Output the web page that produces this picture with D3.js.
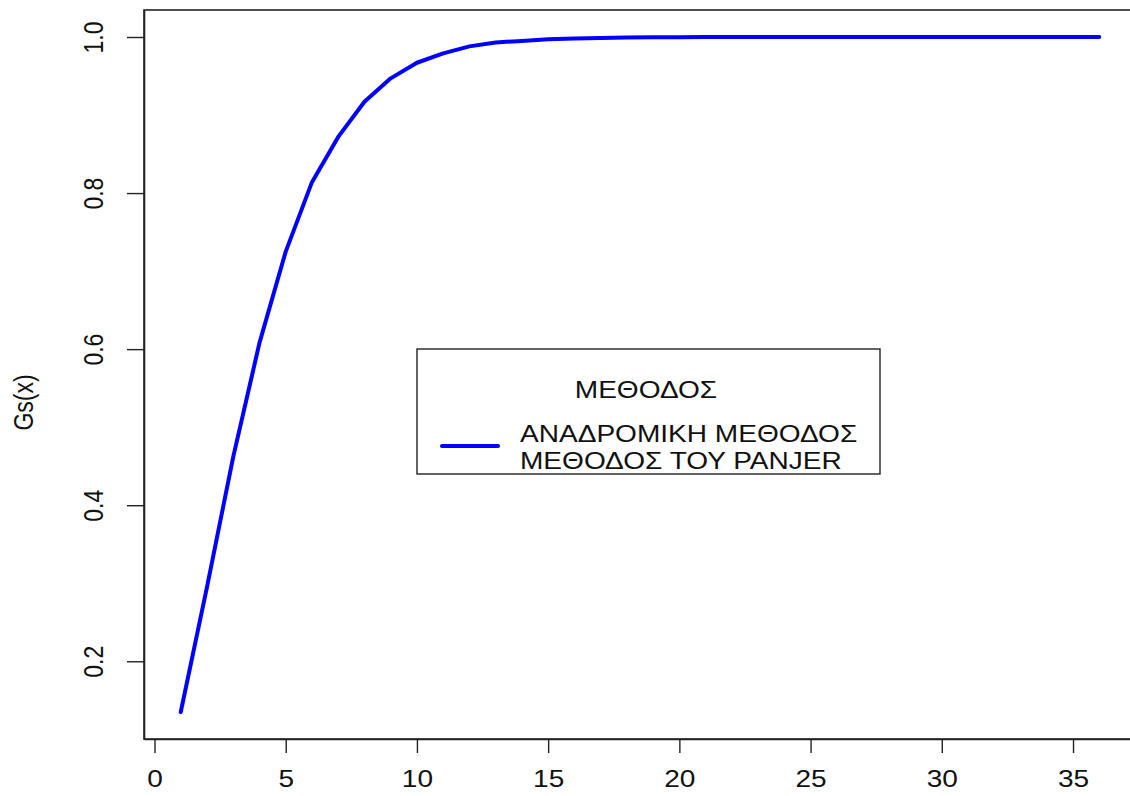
<!DOCTYPE html>
<html>
<head>
<meta charset="utf-8">
<script src="https://cdn.jsdelivr.net/npm/d3@7"></script>
<style>
  html, body { margin: 0; padding: 0; background: #fff; }
  svg { display: block; }
  text { font-family: "Liberation Sans", Arial, sans-serif; fill: #111; }
</style>
</head>
<body>
<svg id="chart" width="1130" height="796"></svg>
<script>
// Cumulative distribution Gs(x) of the aggregate claim amount
const xValues = [1, 2, 3, 4, 5, 6, 7, 8, 9, 10, 11, 12, 13, 14, 15, 16, 17, 18,
                 19, 20, 21, 22, 23, 24, 25, 26, 27, 28, 29, 30, 31, 32, 33, 34, 35, 36];
const gsValues = [0.135, 0.295, 0.462, 0.608, 0.725, 0.814, 0.872, 0.917, 0.947, 0.967,
                  0.979, 0.988, 0.993, 0.995, 0.997, 0.998, 0.9988, 0.9993, 0.9996, 0.9998,
                  0.9999, 0.9999, 1.0, 1.0, 1.0, 1.0, 1.0, 1.0, 1.0, 1.0,
                  1.0, 1.0, 1.0, 1.0, 1.0, 1.0];
const xTicks = [0, 5, 10, 15, 20, 25, 30, 35];
const yTicks = [0.2, 0.4, 0.6, 0.8, 1.0];
const yLabel = "Gs(x)";
const legendTitle = "ΜΕΘΟΔΟΣ";
const legendLines = ["ΑΝΑΔΡΟΜΙΚΗ ΜΕΘΟΔΟΣ", "ΜΕΘΟΔΟΣ ΤΟΥ PANJER"];

const svg = d3.select("#chart");
const plot = { left: 144, right: 1136, top: 10, bottom: 739 };
const sx = 1.22;          // horizontal text stretch
const fontSize = 23;
const ink = "#222";

// Axis ranges padded by 4% on each side
function padded(ext) { const r = ext[1] - ext[0]; return [ext[0] - 0.04 * r, ext[1] + 0.04 * r]; }
const x = d3.scaleLinear().domain(padded(d3.extent(xValues))).range([plot.left, plot.right]);
const y = d3.scaleLinear().domain(padded(d3.extent(gsValues))).range([plot.bottom, plot.top]);

const data = xValues.map((v, i) => ({ x: v, y: gsValues[i] }));

// Curve
svg.append("path")
  .datum(data)
  .attr("fill", "none")
  .attr("stroke", "#0000ff")
  .attr("stroke-width", 4)
  .attr("stroke-linejoin", "round")
  .attr("stroke-linecap", "round")
  .attr("d", d3.line().x(d => x(d.x)).y(d => y(d.y)));

// Frame
svg.append("rect")
  .attr("x", plot.left).attr("y", plot.top)
  .attr("width", plot.right - plot.left).attr("height", plot.bottom - plot.top)
  .attr("fill", "none").attr("stroke", ink).attr("stroke-width", 1.6);

// X axis
const xAxis = svg.append("g").attr("transform", `translate(0,${plot.bottom})`)
  .call(d3.axisBottom(x).tickValues(xTicks).tickSize(14).tickSizeOuter(0).tickFormat(d3.format("d")));
xAxis.select(".domain").attr("stroke", ink).attr("stroke-width", 1.6);
xAxis.selectAll(".tick line").attr("stroke", ink).attr("stroke-width", 1.4);
xAxis.selectAll(".tick text").remove();
xAxis.selectAll(".tick").append("g")
  .attr("transform", `translate(0,${787 - plot.bottom}) scale(${sx},1)`)
  .append("text")
  .attr("text-anchor", "middle")
  .attr("font-size", fontSize)
  .text(d => d3.format("d")(d));

// Y axis
const yAxis = svg.append("g").attr("transform", `translate(${plot.left},0)`)
  .call(d3.axisLeft(y).tickValues(yTicks).tickSize(17).tickSizeOuter(0));
yAxis.select(".domain").attr("stroke", ink).attr("stroke-width", 1.6);
yAxis.selectAll(".tick line").attr("stroke", ink).attr("stroke-width", 1.4);
yAxis.selectAll(".tick text").remove();
yAxis.selectAll(".tick").append("g")
  .attr("transform", `translate(${103 - plot.left},0) scale(${sx},1) rotate(-90)`)
  .append("text")
  .attr("text-anchor", "middle")
  .attr("font-size", fontSize)
  .text(d => d3.format(".1f")(d));

// Y axis title
svg.append("g")
  .attr("transform", `translate(33,${(plot.top + plot.bottom) / 2 + 28}) scale(${sx},1) rotate(-90)`)
  .append("text")
  .attr("text-anchor", "middle")
  .attr("font-size", fontSize)
  .text(yLabel);

// Legend
const lg = { x: 417, y: 349, w: 463, h: 125 };
svg.append("rect")
  .attr("x", lg.x).attr("y", lg.y).attr("width", lg.w).attr("height", lg.h)
  .attr("fill", "#fff").attr("stroke", ink).attr("stroke-width", 1.4);

svg.append("g")
  .attr("transform", `translate(646,398) scale(${sx},1)`)
  .append("text")
  .attr("text-anchor", "middle")
  .attr("font-size", fontSize)
  .text(legendTitle);

svg.append("line")
  .attr("x1", 442).attr("x2", 498).attr("y1", 446).attr("y2", 446)
  .attr("stroke", "#0000ff").attr("stroke-width", 4).attr("stroke-linecap", "round");

const lt = svg.append("g")
  .attr("transform", `translate(520,0) scale(${sx},1)`)
  .append("text")
  .attr("font-size", fontSize);
lt.selectAll("tspan").data(legendLines).join("tspan")
  .attr("x", 0)
  .attr("y", (d, i) => 442 + i * 27.5)
  .text(d => d);
</script>
</body>
</html>
